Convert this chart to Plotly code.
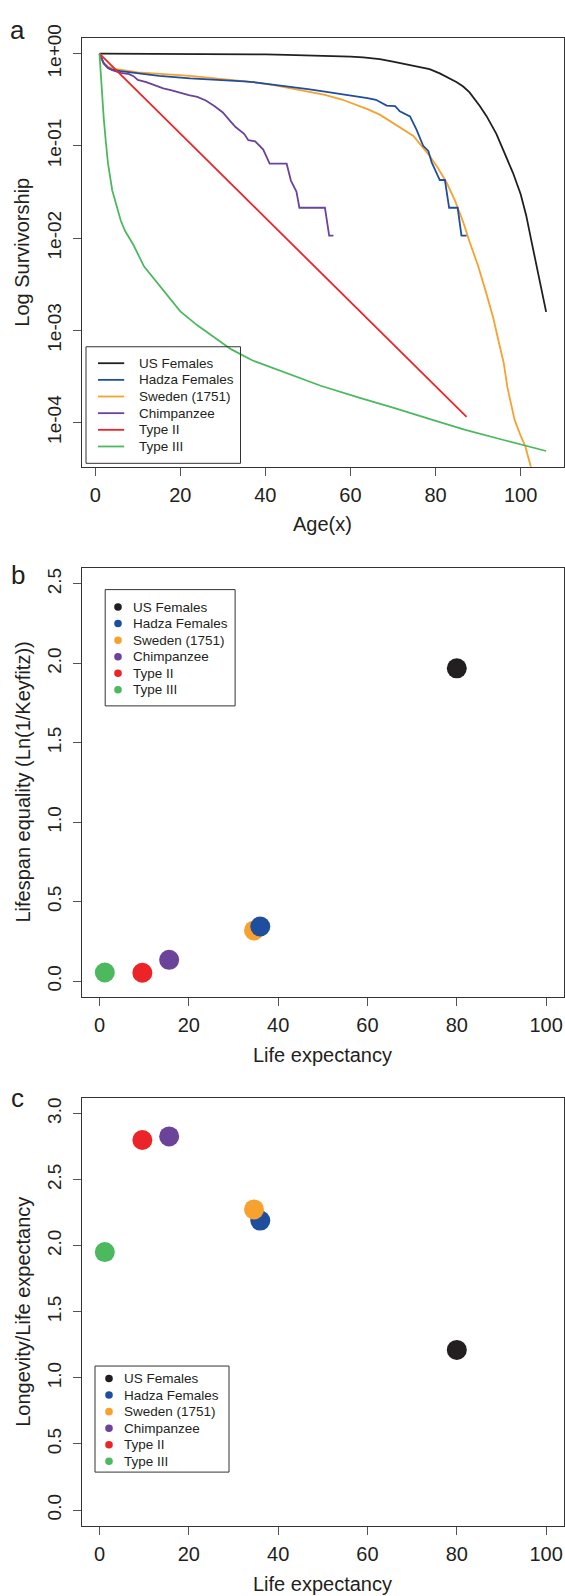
import plotly.graph_objects as go

W, H = 565, 1596

# ---------------- data ----------------
series_names = ["US Females", "Hadza Females", "Sweden (1751)", "Chimpanzee", "Type II", "Type III"]
series_colors = ["#231f20", "#1f4e9f", "#f7a12f", "#6b439a", "#ec2327", "#4cb95f"]

# panel a: survivorship l(x)
us_age = [1, 10, 20, 30, 40, 45, 50, 55, 60, 63, 66.9, 70, 73, 76, 78.6, 81, 83, 85, 86.5, 88,
          90.4, 92, 94.3, 96, 98.2, 100, 101.3, 102.5, 104.5, 106]
us_surv = [1.0, 0.998, 0.995, 0.99, 0.98, 0.97, 0.96, 0.945, 0.93, 0.91, 0.87, 0.82, 0.77, 0.72,
           0.68, 0.61, 0.55, 0.49, 0.44, 0.38, 0.27, 0.21, 0.135, 0.09, 0.051, 0.030, 0.0177,
           0.0095, 0.0034, 0.00158]

hadza_age = [1, 2, 3, 4, 6, 10, 15, 22.3, 30, 35, 38, 42, 45.8, 50, 53.6, 58, 61.4, 64, 66, 67,
             68.5, 70.5, 71.6, 74, 75.5, 77.1, 78.3, 79.1, 81, 82.2, 83.2, 85.2, 86.1, 87.3]
hadza_surv = [1.0, 0.785, 0.70, 0.67, 0.645, 0.61, 0.575, 0.54, 0.52, 0.50, 0.486, 0.462,
              0.44, 0.413, 0.389, 0.364, 0.344, 0.33, 0.316, 0.30, 0.273, 0.27, 0.237, 0.209,
              0.151, 0.10, 0.088, 0.066, 0.0426, 0.0426, 0.0213, 0.0213, 0.0106, 0.0106]

sweden_age = [1, 2, 3, 5, 10, 15, 22.3, 30, 38, 42, 46, 50, 54, 58, 61.4, 64, 66.9, 69.2, 72,
              74.8, 76.7, 78.6, 80.6, 82.6, 84.5, 86.5, 88, 90, 91.8, 93.5, 94.8, 96, 96.9,
              98.6, 100, 101.1, 102.4, 103]
sweden_surv = [1.0, 0.80, 0.72, 0.68, 0.625, 0.60, 0.573, 0.528, 0.486, 0.455, 0.42, 0.39,
               0.358, 0.318, 0.28, 0.25, 0.218, 0.186, 0.155, 0.128, 0.10, 0.078, 0.057, 0.040,
               0.026, 0.0149, 0.0091, 0.0050, 0.00264, 0.0014, 0.00077, 0.00045, 0.00024,
               0.000106, 0.000072, 0.000055, 0.000033, 0.000025]

chimp_age = [1, 2, 3, 4, 6, 8, 9, 10, 12, 14, 16, 18, 20, 22, 24, 26, 28, 30, 32, 33, 35, 36,
             37.6, 39.5, 41, 45, 46, 47.3, 48, 54, 55, 56]
chimp_surv = [1.0, 0.78, 0.70, 0.66, 0.62, 0.60, 0.57, 0.52, 0.49, 0.45, 0.42, 0.40, 0.375,
              0.355, 0.34, 0.31, 0.27, 0.23, 0.18, 0.16, 0.135, 0.115, 0.112, 0.091, 0.064,
              0.064, 0.042, 0.032, 0.0213, 0.0213, 0.0106, 0.0106]

type2_age = [1, 87.3]
type2_surv = [1.0, 0.000115]

type3_age = [1, 1.3, 1.6, 2, 2.5, 3, 4, 5, 6, 7, 9, 11.5, 14, 16, 20, 24, 28.4, 32, 37, 41,
             45.3, 53, 62.2, 70, 79.1, 87, 96, 106]
type3_surv = [1.0, 0.60, 0.37, 0.20, 0.11, 0.065, 0.033, 0.022, 0.0155, 0.012, 0.0084,
              0.0049, 0.0035, 0.0027, 0.0016, 0.00113, 0.00081, 0.00062, 0.00047, 0.0004,
              0.00034, 0.00025, 0.000185, 0.000145, 0.000107, 0.000083, 0.0000645, 0.000049]

# panels b and c
life_expectancy = [80.0, 36.0, 34.6, 15.6, 9.6, 1.2]
lifespan_equality = [1.969, 0.344, 0.319, 0.134, 0.053, 0.054]
longevity_ratio = [1.212, 2.19, 2.275, 2.827, 2.80, 1.952]

# axis ticks
a_xticks = [0, 20, 40, 60, 80, 100]
a_yticks = [1, 0.1, 0.01, 0.001, 0.0001]
a_yticktext = ["1e+00", "1e-01", "1e-02", "1e-03", "1e-04"]
b_yticks = [0.0, 0.5, 1.0, 1.5, 2.0, 2.5]
c_yticks = [0.0, 0.5, 1.0, 1.5, 2.0, 2.5, 3.0]
bc_xticks = [0, 20, 40, 60, 80, 100]

# ---------------- geometry helpers ----------------
def fx(px):
    return px / W


def fy(py):
    return 1 - py / H


FONT = "Liberation Sans, Arial, Helvetica, sans-serif"
TXT = "#231f20"

PL, PR = 81.6, 564.0
A_T, A_B = 24.0, 456.7
B_T, B_B = 559.0, 991.7
C_T, C_B = 1093.3, 1525.3

fig = go.Figure()

# panel a lines (drawing order)
curves = [
    (0, us_age, us_surv),
    (2, sweden_age, sweden_surv),
    (1, hadza_age, hadza_surv),
    (3, chimp_age, chimp_surv),
    (4, type2_age, type2_surv),
    (5, type3_age, type3_surv),
]
for idx, ages, surv in curves:
    fig.add_trace(go.Scatter(x=ages, y=surv, mode="lines", name=series_names[idx],
                             line=dict(color=series_colors[idx], width=1.8),
                             xaxis="x", yaxis="y", showlegend=False))

# panel b points
for idx in [0, 2, 1, 3, 4, 5]:
    fig.add_trace(go.Scatter(x=[life_expectancy[idx]], y=[lifespan_equality[idx]], mode="markers",
                             name=series_names[idx],
                             marker=dict(color=series_colors[idx], size=20, line=dict(width=0)),
                             xaxis="x2", yaxis="y2", showlegend=False))

# panel c points
for idx in [0, 1, 2, 3, 4, 5]:
    fig.add_trace(go.Scatter(x=[life_expectancy[idx]], y=[longevity_ratio[idx]], mode="markers",
                             name=series_names[idx],
                             marker=dict(color=series_colors[idx], size=20, line=dict(width=0)),
                             xaxis="x3", yaxis="y3", showlegend=False))

axis_common = dict(showline=True, mirror=True, linecolor="#333333", linewidth=1,
                   ticks="outside", ticklen=8, tickwidth=1, tickcolor="#555555",
                   showgrid=False, zeroline=False)
xfont = dict(family=FONT, size=20, color=TXT)
yfont = dict(family=FONT, size=19, color=TXT)
xstyle = dict(tickfont=xfont, ticklabelstandoff=2, **axis_common)
ystyle = dict(tickfont=yfont, tickangle=-90, ticklabelstandoff=4, **axis_common)

layout = dict(
    width=W, height=H,
    margin=dict(l=0, r=0, t=0, b=0),
    paper_bgcolor="white", plot_bgcolor="white",
    showlegend=False,
    font=dict(family=FONT, color=TXT),
    xaxis=dict(domain=[fx(PL), fx(PR)], range=[-3.2, 110.2], tickvals=a_xticks,
               anchor="y", **xstyle),
    yaxis=dict(domain=[fy(A_B), fy(A_T)], type="log", range=[-4.48, 0.172],
               tickvals=a_yticks, ticktext=a_yticktext, anchor="x", **ystyle),
    xaxis2=dict(domain=[fx(PL), fx(PR)], range=[-4, 104], tickvals=bc_xticks,
                anchor="y2", **xstyle),
    yaxis2=dict(domain=[fy(B_B), fy(B_T)], range=[-0.1, 2.6], tickvals=b_yticks,
                ticktext=["%.1f" % v for v in b_yticks], anchor="x2", **ystyle),
    xaxis3=dict(domain=[fx(PL), fx(PR)], range=[-4, 104], tickvals=bc_xticks,
                anchor="y3", **xstyle),
    yaxis3=dict(domain=[fy(C_B), fy(C_T)], range=[-0.12, 3.12], tickvals=c_yticks,
                ticktext=["%.1f" % v for v in c_yticks], anchor="x3", **ystyle),
)
fig.update_layout(**layout)

annotations = []
shapes = []


def text(x, y, s, size, angle=0, xanchor="center", yanchor="middle"):
    annotations.append(dict(x=fx(x), y=fy(y), xref="paper", yref="paper", text=s,
                            showarrow=False, textangle=angle, xanchor=xanchor,
                            yanchor=yanchor, font=dict(family=FONT, size=size, color=TXT)))


# panel letters
text(17, 16, "a", 26)
text(18, 566, "b", 26)
text(17, 1094, "c", 26)

# axis titles
text(22.5, (A_T + A_B) / 2, "Log Survivorship", 20, angle=-90)
text((PL + PR) / 2, 514.3, "Age(x)", 20)
text(23, (B_T + B_B) / 2, "Lifespan equality (Ln(1/Keyfitz))", 20, angle=-90)
text((PL + PR) / 2, 1050, "Life expectancy", 20)
text(23, (C_T + C_B) / 2, "Longevity/Life expectancy", 20, angle=-90)
text((PL + PR) / 2, C_B + 58.3, "Life expectancy", 20)


def legend_box(x0, y0, x1, y1):
    shapes.append(dict(type="rect", xref="paper", yref="paper", x0=fx(x0), x1=fx(x1),
                       y0=fy(y1), y1=fy(y0), line=dict(color="#333333", width=1),
                       fillcolor="rgba(0,0,0,0)", layer="above"))


# panel a legend (lines)
legend_box(86, 335.7, 240.5, 453.3)
for i, name in enumerate(series_names):
    yy = 352.3 + i * 16.8
    shapes.append(dict(type="line", xref="paper", yref="paper", x0=fx(98), x1=fx(124.2),
                       y0=fy(yy), y1=fy(yy), line=dict(color=series_colors[i], width=1.8)))
    text(136.5, yy, name, 13.5, xanchor="left")

# panel b legend (dots)
legend_box(105.2, 580.7, 235.1, 698)
for i, name in enumerate(series_names):
    yy = 598.3 + i * 16.7
    r = 3.8
    shapes.append(dict(type="circle", xref="paper", yref="paper", x0=fx(118 - r), x1=fx(118 + r),
                       y0=fy(yy + r), y1=fy(yy - r), line=dict(width=0),
                       fillcolor=series_colors[i]))
    text(130.5, yy, name, 13.5, xanchor="left")

# panel c legend (dots)
legend_box(95, 1364, 229, 1471)
for i, name in enumerate(series_names):
    yy = 1376.6 + i * 16.7
    r = 3.8
    shapes.append(dict(type="circle", xref="paper", yref="paper", x0=fx(109 - r), x1=fx(109 + r),
                       y0=fy(yy + r), y1=fy(yy - r), line=dict(width=0),
                       fillcolor=series_colors[i]))
    text(121.5, yy, name, 13.5, xanchor="left")

fig.update_layout(annotations=annotations, shapes=shapes)

fig.write_html("out.html")
